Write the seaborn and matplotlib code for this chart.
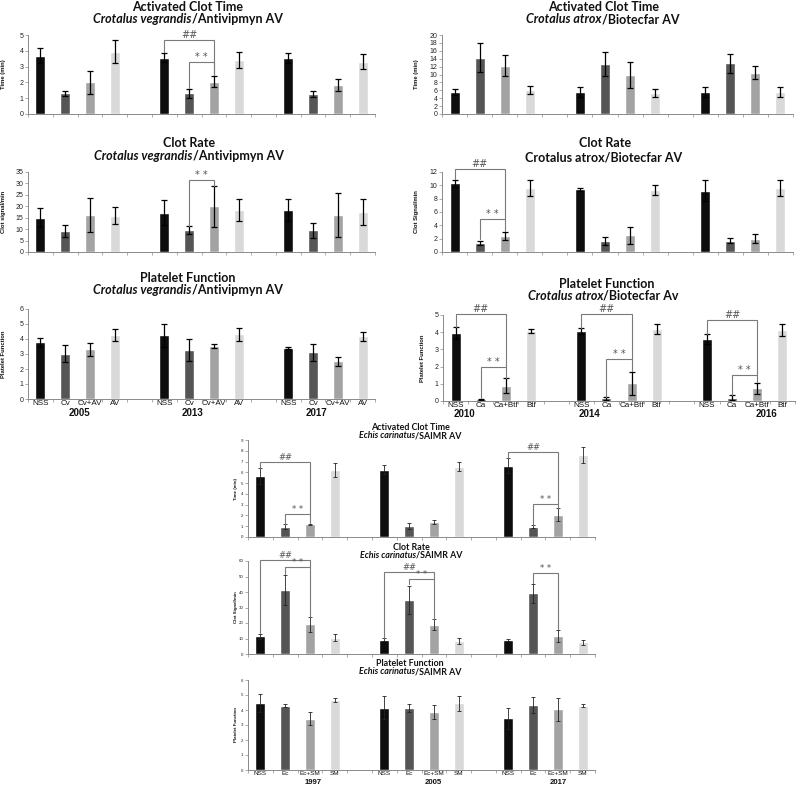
import numpy as np
import pandas as pd
import matplotlib
matplotlib.use("Agg")
import matplotlib.pyplot as plt
import seaborn as sns

sns.set_style("white")
plt.rcParams['font.family'] = ['Liberation Sans', 'DejaVu Sans']

W, H = 800, 787
fig = plt.figure(figsize=(8, 7.87), dpi=100)

# ---------------- data ----------------
cv_groups = ["NSS", "Cv", "Cv+AV", "AV"]
cv_years = ["2005", "2013", "2017"]
ca_groups = ["NSS", "Ca", "Ca+Btf", "Btf"]
ca_years = ["2010", "2014", "2016"]
ec_groups = ["NSS", "Ec", "Ec+SM", "SM"]
ec_years = ["1997", "2005", "2017"]

act_cv_mean = [[3.70, 1.30, 2.00, 3.95], [3.57, 1.30, 2.04, 3.42], [3.53, 1.28, 1.83, 3.30]]
act_cv_err = [[0.50, 0.18, 0.75, 0.73], [0.27, 0.28, 0.36, 0.50], [0.30, 0.20, 0.40, 0.48]]

clot_cv_mean = [[15.0, 9.2, 16.2, 15.9], [17.2, 9.5, 20.0, 18.4], [18.4, 9.5, 16.2, 17.6]]
clot_cv_err = [[4.2, 2.6, 7.6, 3.8], [5.5, 1.7, 8.9, 5.0], [4.8, 3.2, 9.6, 5.7]]

pf_cv_mean = [[3.80, 3.02, 3.31, 4.27], [4.24, 3.29, 3.53, 4.31], [3.40, 3.11, 2.51, 4.18]]
pf_cv_err = [[0.30, 0.57, 0.45, 0.40], [0.78, 0.73, 0.12, 0.44], [0.05, 0.55, 0.29, 0.29]]

act_ca_mean = [[5.5, 14.3, 12.2, 6.1], [5.6, 12.6, 9.9, 5.3], [5.5, 12.9, 10.5, 5.6]]
act_ca_err = [[0.8, 3.6, 2.7, 1.0], [1.3, 3.1, 3.2, 1.1], [1.3, 2.4, 1.7, 1.3]]

clot_ca_mean = [[10.3, 1.4, 2.4, 9.6], [9.4, 1.6, 2.5, 9.3], [9.2, 1.7, 2.0, 9.6]]
clot_ca_err = [[0.55, 0.3, 0.6, 1.2], [0.2, 0.6, 1.3, 0.7], [1.6, 0.4, 0.7, 1.2]]

pf_ca_mean = [[3.95, 0.10, 0.90, 4.07], [4.07, 0.15, 1.03, 4.20], [3.60, 0.19, 0.74, 4.12]]
pf_ca_err = [[0.33, 0.03, 0.42, 0.10], [0.16, 0.07, 0.68, 0.30], [0.27, 0.13, 0.31, 0.33]]

act_ec_mean = [[5.65, 0.96, 1.20, 6.20], [6.23, 1.02, 1.39, 6.50], [6.60, 0.96, 2.07, 7.60]]
act_ec_err = [[0.74, 0.20, 0.05, 0.65], [0.43, 0.25, 0.20, 0.42], [0.70, 0.15, 0.58, 0.75]]

clot_ec_mean = [[11.3, 41.3, 19.1, 10.5], [9.2, 34.9, 18.8, 8.4], [9.0, 39.2, 11.6, 7.6]]
clot_ec_err = [[1.9, 9.8, 4.7, 2.3], [1.1, 9.2, 3.6, 1.7], [0.4, 6.0, 4.0, 1.6]]

pf_ec_mean = [[4.45, 4.30, 3.42, 4.67], [4.14, 4.14, 3.86, 4.45], [3.44, 4.32, 4.06, 4.27]]
pf_ec_err = [[0.60, 0.08, 0.45, 0.13], [0.77, 0.26, 0.48, 0.50], [0.72, 0.53, 0.77, 0.10]]

# brackets: (year index, group 1, group 2, level, left leg bottom, right leg bottom, label)
act_cv_brackets = [(1, 0, 2, 4.68, 3.95, 2.45, "##"), (1, 1, 2, 3.32, 1.65, 2.45, "* *")]
clot_cv_brackets = [(1, 1, 2, 31.6, 11.5, 29.0, "* *")]
clot_ca_brackets = [(0, 0, 2, 12.45, 11.0, 4.9, "##"), (0, 1, 2, 4.9, 1.9, 3.1, "* *")]
pf_ca_brackets = [(0, 0, 2, 5.04, 4.3, 1.98, "##"), (0, 1, 2, 1.98, 0.2, 1.35, "* *"),
                  (1, 0, 2, 5.04, 4.25, 2.43, "##"), (1, 1, 2, 2.43, 0.25, 1.72, "* *"),
                  (2, 0, 2, 4.70, 3.9, 1.5, "##"), (2, 1, 2, 1.5, 0.35, 1.08, "* *")]
act_ec_brackets = [(0, 0, 2, 6.95, 6.4, 2.13, "##"), (0, 1, 2, 2.13, 1.2, 1.3, "* *"),
                   (2, 0, 2, 7.93, 7.35, 3.09, "##"), (2, 1, 2, 3.09, 1.15, 2.7, "* *")]
clot_ec_brackets = [(0, 0, 2, 60.5, 13.5, 56.0, "##"), (0, 1, 2, 56.0, 51.5, 24.0, "* *"),
                    (1, 0, 2, 53.1, 10.5, 48.4, "##"), (1, 1, 2, 48.4, 45.0, 22.7, "* *"),
                    (2, 1, 2, 52.0, 46.0, 16.0, "* *")]

bar_colors = ["#0d0d0d", "#555555", "#a3a3a3", "#d9d9d9"]
GRAY = "#8a8a8a"
TITLE_FONT = ['Lato', 'DejaVu Sans']


def title_line(x_px, y_px, parts, size):
    renderer = fig.canvas.get_renderer()
    texts = []
    for s, italic in parts:
        t = fig.text(0, 1 - y_px / H, s, fontsize=size, fontweight='bold',
                     fontstyle='italic' if italic else 'normal',
                     family=TITLE_FONT, va='center', ha='left', color='#111111')
        texts.append(t)
    widths = [t.get_window_extent(renderer).width for t in texts]
    x = x_px - sum(widths) / 2
    for t, w in zip(texts, widths):
        t.set_x(x / W)
        x += w


def panel(rect, groups, years, means, errs, ymax, ystep, ylabel, ylab_x,
          brackets=(), show_x=False, year_x=None, small=False,
          year_off=0.0):
    left, right, top, bottom = rect
    ax = fig.add_axes([left / W, 1 - bottom / H, (right - left) / W, (bottom - top) / H])
    order, rows = [], []
    for yi, yr in enumerate(years):
        for gi, g in enumerate(groups):
            key = f"{yr}|{g}"
            order.append(key)
            rows.append(dict(slot=key, group=g, value=means[yi][gi], err=errs[yi][gi]))
        if yi < len(years) - 1:
            order.append(f"gap{yi}")
    df = pd.DataFrame(rows)
    sns.barplot(data=df, x="slot", y="value", hue="group", order=order,
                hue_order=groups, palette=bar_colors, dodge=False, width=0.4,
                errorbar=None, legend=False, saturation=1, ax=ax)
    pos = [order.index(k) for k in df["slot"]]
    ax.errorbar(pos, df["value"], yerr=df["err"], fmt='none',
                ecolor='#222222' if small else 'black',
                elinewidth=0.6 if small else 0.9, capsize=1.6 if small else 2.0,
                capthick=0.6 if small else 0.9)
    ax.set_xlim(-0.5, len(order) - 0.5)
    ax.set_ylim(0, ymax)
    ax.set_yticks(np.arange(0, ymax + 0.001, ystep))
    ax.set_xticks(range(len(order)))
    if show_x:
        ax.set_xticklabels([k.split("|")[1] if "|" in k else "" for k in order])
    else:
        ax.set_xticklabels([""] * len(order))
    ax.set_xticks(np.arange(-0.5, len(order)), minor=True)
    ax.tick_params(axis='x', which='major', length=0, pad=0.6 if small else 1.0,
                   labelsize=4.6 if small else 5.8, labelcolor='#111111')
    ax.tick_params(axis='x', which='minor', bottom=True, length=2.5, width=0.5, color=GRAY)
    ax.tick_params(axis='y', which='major', left=True, length=2, width=0.5, color=GRAY,
                   labelsize=3.2 if small else 5.0, pad=1.2, labelcolor='#222222')
    for s in ['top', 'right']:
        ax.spines[s].set_visible(False)
    for s in ['left', 'bottom']:
        ax.spines[s].set_color(GRAY)
        ax.spines[s].set_linewidth(0.7)
    ax.set_xlabel("")
    ax.set_ylabel(ylabel, fontsize=3.2 if small else 4.2, fontweight='bold', color='#111111')
    ax.yaxis.set_label_coords((ylab_x - left) / (right - left), 0.5)
    bfs = 6.0 if small else 7.0
    for (yi, g1, g2, lev, b1, b2, lab) in brackets:
        x1 = yi * 5 + g1
        x2 = yi * 5 + g2
        ax.plot([x1, x1, x2, x2], [b1, lev, lev, b2], color='#7a7a7a', lw=0.8,
                clip_on=False, solid_joinstyle='miter')
        ax.text((x1 + x2) / 2, lev, lab, ha='center', va='bottom', fontsize=bfs,
                color='#555555', family=['DejaVu Sans'], clip_on=False)
    if year_x is not None:
        tr = ax.get_xaxis_transform()
        for xv, yr in zip(year_x, years):
            ax.text(xv, year_off, yr, transform=tr, ha='center', va='center',
                    fontsize=5.6 if small else 7.0, fontweight='bold', color='#111111')
    return ax


# ---------------- left column: Crotalus vegrandis ----------------
title_line(188, 7, [("Activated Clot Time", False)], 9)
title_line(188, 19, [("Crotalus vegrandis", True), ("/Antivipmyn AV", False)], 9)
panel((28, 375, 35, 114), cv_groups, cv_years, act_cv_mean, act_cv_err, 5, 1,
      "Time (min)", 6, brackets=act_cv_brackets)

title_line(189, 143, [("Clot Rate", False)], 9)
title_line(189, 156, [("Crotalus vegrandis", True), ("/Antivipmyn AV", False)], 9)
panel((28, 375, 172, 252), cv_groups, cv_years, clot_cv_mean, clot_cv_err, 35, 5,
      "Clot signal/min", 6, brackets=clot_cv_brackets)

title_line(188, 278, [("Platelet Function", False)], 9)
title_line(188, 290, [("Crotalus vegrandis", True), ("/Antivipmyn AV", False)], 9)
panel((28, 375, 309, 399), cv_groups, cv_years, pf_cv_mean, pf_cv_err, 6, 1,
      "Platelet Function", 6, show_x=True, year_x=[1.59, 6.13, 11.15],
      year_off=-0.155)

# ---------------- right column: Crotalus atrox ----------------
title_line(604, 7, [("Activated Clot Time", False)], 9)
title_line(603, 19, [("Crotalus atrox", True), ("/Biotecfar AV", False)], 9)
panel((442, 793, 35, 114), ca_groups, ca_years, act_ca_mean, act_ca_err, 20, 2,
      "Time (min)", 419)

title_line(605, 143, [("Clot Rate", False)], 9)
title_line(604, 157, [("Crotalus atrox/Biotecfar AV", False)], 9)
panel((442, 793, 172, 252), ca_groups, ca_years, clot_ca_mean, clot_ca_err, 12, 2,
      "Clot Signal/min", 419, brackets=clot_ca_brackets)

title_line(607, 284, [("Platelet Function", False)], 9)
title_line(603, 296, [("Crotalus atrox", True), ("/Biotecfar Av", False)], 9)
panel((443, 795, 315, 401), ca_groups, ca_years, pf_ca_mean, pf_ca_err, 5, 1,
      "Platelet Function", 425, brackets=pf_ca_brackets, show_x=True,
      year_x=[0.34, 5.32, 12.38], year_off=-0.15)

# ---------------- bottom column: Echis carinatus ----------------
title_line(410, 428, [("Activated Clot Time", False)], 6.4)
title_line(410, 436, [("Echis carinatus", True), ("/SAIMR AV", False)], 6.4)
panel((248, 595, 440, 537), ec_groups, ec_years, act_ec_mean, act_ec_err, 9, 1,
      "Time (min)", 238, brackets=act_ec_brackets, small=True)

title_line(411, 547, [("Clot Rate", False)], 6.4)
title_line(411, 555, [("Echis carinatus", True), ("/SAIMR AV", False)], 6.4)
panel((248, 595, 561, 654), ec_groups, ec_years, clot_ec_mean, clot_ec_err, 60, 10,
      "Clot Signal/min", 238, brackets=clot_ec_brackets, small=True)

title_line(410, 664, [("Platelet Function", False)], 6.4)
title_line(410, 672, [("Echis carinatus", True), ("/SAIMR AV", False)], 6.4)
panel((248, 595, 680, 770), ec_groups, ec_years, pf_ec_mean, pf_ec_err, 6, 1,
      "Platelet Function", 238, show_x=True, year_x=[2.12, 6.96, 12.0],
      small=True, year_off=-0.135)

fig.savefig("out.png", dpi=100, facecolor='white')
